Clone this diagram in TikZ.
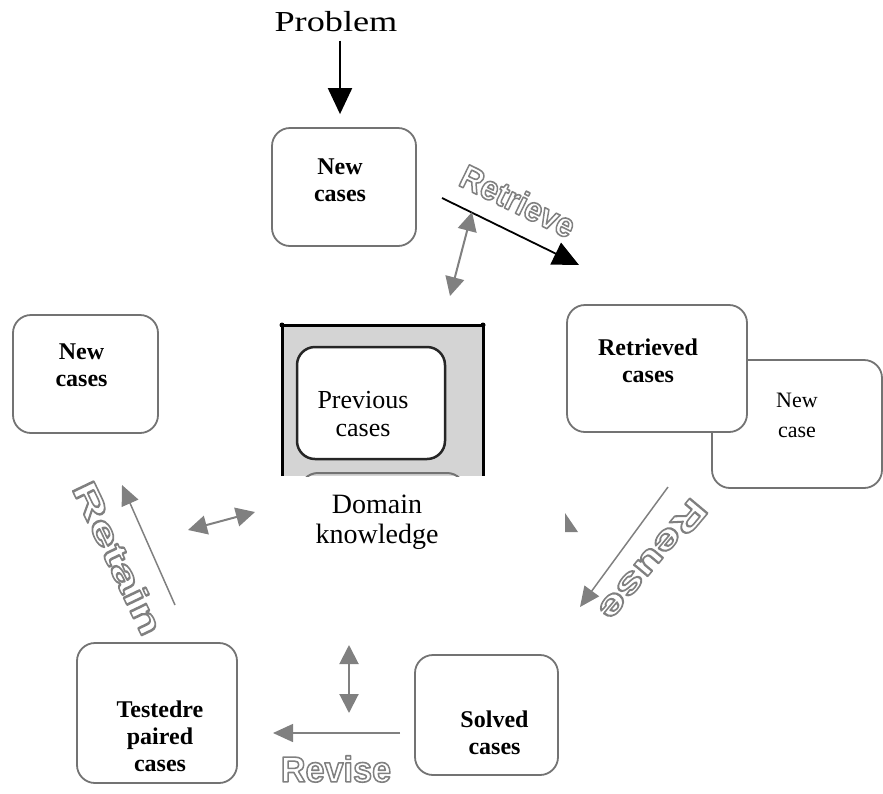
\documentclass[tikz,border=0pt]{standalone}
\usepackage{fontspec}
\setmainfont{Liberation Serif}
\newfontfamily\lblfont{Liberation Sans}
\usetikzlibrary{arrows.meta}
\newcommand{\fsz}[2]{\fontsize{#1}{#2}\selectfont}
\newcommand{\olbl}[1]{\special{pdf:literal direct 0.5 G 1.6 w 1 j 1 Tr}#1\special{pdf:literal direct 0 Tr}}
\tikzset{
  cbox/.style={draw=black!55,line width=1.8pt,rounded corners=18pt,fill=white},
  ctxt/.style={align=center,font=\fsz{24}{27}\bfseries},
  gflow/.style={-{Triangle[length=20pt,width=18pt]},black!50,line width=1.5pt},
  gboth/.style={{Triangle[length=19pt,width=19pt]}-{Triangle[length=19pt,width=19pt]},black!50,line width=2pt},
  bflow/.style={-{Triangle[length=26pt,width=24pt]},line width=2pt},
  olab/.style={font=\lblfont\bfseries\fsz{34}{34},inner sep=0pt},
}
\begin{document}
\begin{tikzpicture}[x=1pt,y=-1pt]
\useasboundingbox (0,0) rectangle (883,793);
% knowledge base in the middle
\fill[black!17] (282,325) rectangle (483,476);
\begin{scope}
\clip (282,325) rectangle (483,476);
\draw[black!55,line width=2pt,rounded corners=18pt] (300,473) rectangle (465,560);
\end{scope}
\draw[line width=3pt] (282,476) -- (282,325) -- (483,325) -- (483,476);
\fill (282,325) circle (2.5) (483,325) circle (2.5);
\node[cbox,draw=black!85,line width=2.5pt,minimum width=148pt,minimum height=112pt,
  label={[align=center,font=\fsz{26}{28},xshift=-8pt,yshift=-11pt]center:Previous\\cases}] (prev) at (371,403) {};
\node[align=center,font=\fsz{28}{30}] (domain) at (377,522) {Domain\\knowledge};
\fill[black!50] (565,513) -- (565,532) -- (578,532) -- cycle;

% cases
\node[font=\fsz{29}{30}] (problem) at (336,22) {\scalebox{1.25}[1]{Problem}};
\node[cbox,minimum width=144pt,minimum height=118pt,
  label={[ctxt,xshift=-4pt,yshift=7pt]center:New\\cases}] (newtop) at (344,187) {};
\node[cbox,minimum width=145pt,minimum height=118pt,
  label={[ctxt,xshift=-4pt,yshift=9pt]center:New\\cases}] (newleft) at (85.5,374) {};
\node[cbox,minimum width=170pt,minimum height=128pt,
  label={[align=center,font=\fsz{22}{30},yshift=9pt]center:New\\case}] (newcase) at (797,424) {};
\node[cbox,minimum width=180pt,minimum height=127pt,
  label={[ctxt,xshift=-9pt,yshift=8pt]center:Retrieved\\cases}] (retr) at (657,368.5) {};
\node[cbox,minimum width=160pt,minimum height=140pt,
  label={[ctxt,xshift=3pt,yshift=-23pt]center:Testedre\\paired\\cases}] (tested) at (157,713) {};
\node[cbox,minimum width=143pt,minimum height=120pt,
  label={[ctxt,xshift=8pt,yshift=-18pt]center:Solved\\cases}] (solved) at (486.5,715) {};

% arrows
\draw[bflow] ([xshift=-4pt,yshift=-5pt]problem.south -| newtop.north) -- ([xshift=-4pt,yshift=13pt]newtop.north);
\coordinate (rtA) at (442,198);
\coordinate (rtB) at (579,265);
\draw[bflow,line width=1.8pt] (rtA) -- (rtB);
\coordinate (kbT1) at (450,296);
\coordinate (kbT2) at (472,212);
\draw[gboth] (kbT1) -- (kbT2);
\coordinate (ruA) at (668,487);
\coordinate (ruB) at (580,607);
\draw[gflow] (ruA) -- (ruB);
\coordinate (kbB1) at (349,645);
\coordinate (kbB2) at (349,713);
\draw[gboth] (kbB1) -- (kbB2);
\coordinate (rvA) at (400,733);
\coordinate (rvB) at (273,733);
\draw[gflow] (rvA) -- (rvB);
\coordinate (rtnA) at (175,605);
\coordinate (rtnB) at (122,485);
\draw[gflow] (rtnA) -- (rtnB);
\coordinate (kbL1) at (188,530);
\coordinate (kbL2) at (255,512);
\draw[gboth] (kbL1) -- (kbL2);

% step labels
\node[olab,rotate=-26] (lretrieve) at (518,201) {\scalebox{0.92}[1]{\olbl{Retrieve}}};
\node[olab,rotate=-130] (lreuse) at (653,560) {\scalebox{1.45}[1]{\olbl{Reuse}}};
\node[olab,font=\lblfont\bfseries\fsz{36}{36}] (lrevise) at (336,769) {\scalebox{0.95}[1]{\olbl{Revise}}};
\node[olab,rotate=-64.5] (lretain) at (118,558) {\scalebox{1.6}[1]{\olbl{Retain}}};
\end{tikzpicture}
\end{document}
